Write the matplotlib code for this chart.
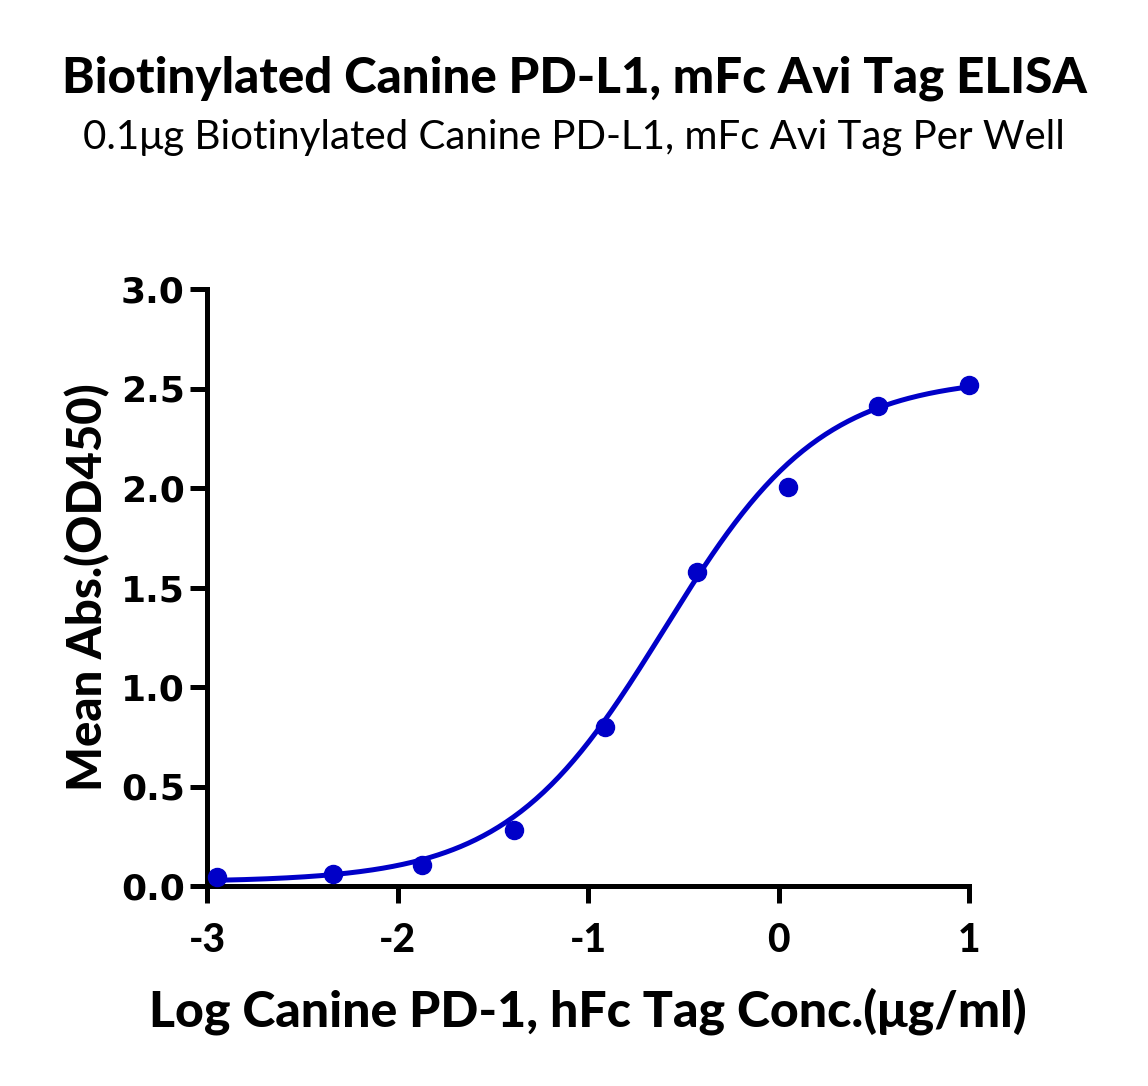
import numpy as np
import matplotlib
matplotlib.use("Agg")
import matplotlib.pyplot as plt

# data
log_conc = [-2.95, -2.34, -1.87, -1.39, -0.91, -0.43, 0.05, 0.52, 1.0]
mean_abs = [0.045, 0.06, 0.105, 0.28, 0.80, 1.58, 2.005, 2.41, 2.52]
# 4PL fit parameters (bottom, top, logEC50, hill)
fit_bottom, fit_top, fit_logec50, fit_hill = 0.02, 2.56, -0.60, 1.05
x_ticks = [-3, -2, -1, 0, 1]
y_ticks = [0.0, 0.5, 1.0, 1.5, 2.0, 2.5, 3.0]

title = "Biotinylated Canine PD-L1, mFc Avi Tag ELISA"
subtitle = "0.1\u03bcg Biotinylated Canine PD-L1, mFc Avi Tag Per Well"
xlabel = "Log Canine PD-1, hFc Tag Conc.(\u03bcg/ml)"
ylabel = "Mean Abs.(OD450)"

color = "#0000C8"

fig = plt.figure(figsize=(11.48, 10.86), dpi=100)
ax = fig.add_axes([207/1148, 1-886/1086, (969-207)/1148, (886-289)/1086])

xs = np.linspace(min(log_conc), max(log_conc), 300)
ys = fit_bottom + (fit_top - fit_bottom) / (1 + 10 ** ((fit_logec50 - xs) * fit_hill))
ax.plot(xs, ys, color=color, lw=3.6, zorder=3, clip_on=False, solid_capstyle="round")
ax.plot(log_conc, mean_abs, 'o', color=color, ms=13, zorder=4, clip_on=False)

ax.set_xlim(-3, 1)
ax.set_ylim(0, 3)
ax.set_xticks(x_ticks)
ax.set_yticks(y_ticks)
ax.set_xticklabels([str(t) for t in x_ticks], family="Lato", weight="black", fontsize=28)
ax.set_yticklabels([f"{t:.1f}" for t in y_ticks], family="DejaVu Sans", weight="bold", fontsize=26)
for s in ["top", "right"]:
    ax.spines[s].set_visible(False)
for s in ["left", "bottom"]:
    ax.spines[s].set_linewidth(3.6)
ax.tick_params(axis="both", direction="out", length=12, width=3.6, color="black")
ax.tick_params(axis="x", pad=14)
ax.tick_params(axis="y", pad=4)

ax.set_xlabel(xlabel, family="Lato", weight="black", fontsize=36, labelpad=20)
ax.set_ylabel(ylabel, family="Lato", weight="black", fontsize=34, labelpad=8)

fig.text(0.5, 1-78/1086, title, ha="center", va="center", family="Lato", weight="black", fontsize=35.5)
fig.text(0.5, 1-138/1086, subtitle, ha="center", va="center", family="Lato", fontsize=29)

fig.savefig("out.png", dpi=100, facecolor="white")
